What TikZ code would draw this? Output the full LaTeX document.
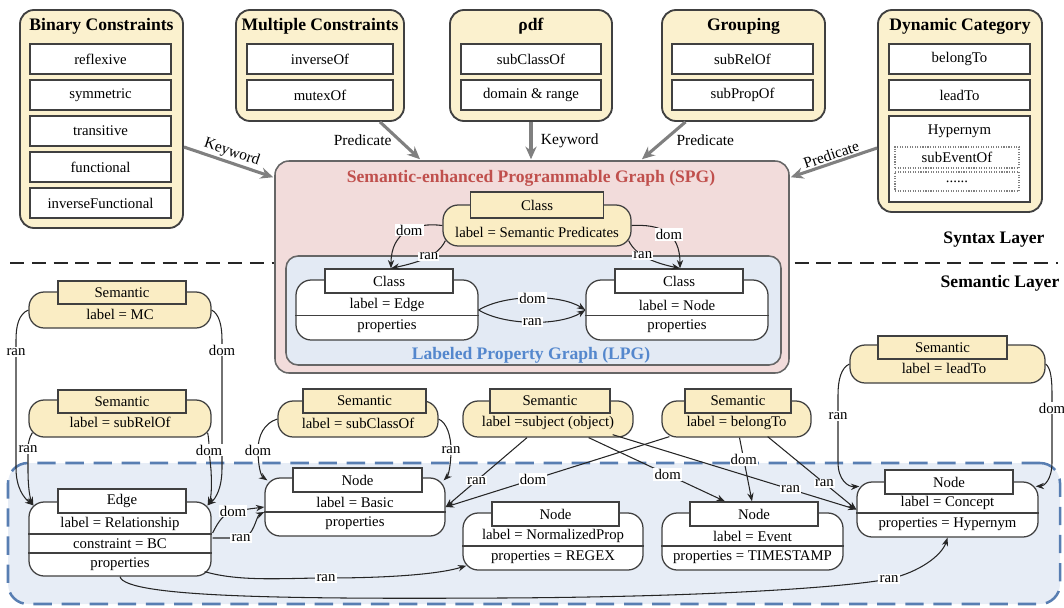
\documentclass[tikz,border=0pt]{standalone}
\usepackage{fontspec}
\setmainfont{Liberation Serif}
\usetikzlibrary{arrows.meta,calc}
\definecolor{GroupFill}{RGB}{251,241,206}
\definecolor{SemFill}{RGB}{250,237,196}
\definecolor{SpgFill}{RGB}{242,220,219}
\definecolor{LpgFill}{RGB}{227,234,244}
\definecolor{LowFill}{RGB}{231,237,246}
\definecolor{LowDash}{RGB}{88,126,178}
\definecolor{SpgRed}{RGB}{192,80,77}
\definecolor{LpgBlue}{RGB}{84,135,205}
\definecolor{LineGray}{RGB}{64,64,64}
\definecolor{ArrowGray}{RGB}{128,128,128}

\tikzset{
  wh/.style 2 args={minimum width=#1*0.025cm,minimum height=#2*0.025cm},
  txt/.style={inner sep=0pt,font=\fontsize{10.5}{12}\selectfont},
  ttl/.style={inner sep=0pt,font=\fontsize{12.5}{14}\selectfont\bfseries},
  group/.style={draw=LineGray,fill=GroupFill,line width=1.3pt,rounded corners=0.35cm,inner sep=0pt},
  item/.style={draw=LineGray,fill=white,line width=1pt,inner sep=0pt,wh={141}{30},font=\fontsize{10.5}{12}\selectfont},
  dotbox/.style={draw=gray,densely dotted,line width=0.8pt,fill=white,inner sep=0pt,font=\fontsize{10.5}{12}\selectfont},
  spgbox/.style={draw=LineGray!80,fill=SpgFill,line width=1.1pt,rounded corners=0.35cm,inner sep=0pt},
  lpgbox/.style={draw=LineGray!80,fill=LpgFill,line width=1.1pt,rounded corners=0.3cm,inner sep=0pt},
  lowbox/.style={draw=LowDash,fill=LowFill,line width=1.8pt,dash pattern=on 13pt off 7pt,rounded corners=0.5cm,inner sep=0pt},
  layerline/.style={draw=black!85,line width=1.8pt,dash pattern=on 10pt off 5.5pt},
  body/.style={draw=LineGray,line width=0.9pt,rounded corners=0.38cm,inner sep=0pt},
  head/.style={draw=LineGray,line width=0.9pt,inner sep=0pt,font=\fontsize{10.5}{12}\selectfont},
  sem/.style={fill=SemFill},
  plain/.style={fill=white},
  divline/.style={draw=LineGray,line width=0.9pt},
  gray arrow/.style={draw=ArrowGray,line width=2.2pt,-{Stealth[length=9pt,width=8pt]}},
  kwlab/.style={inner sep=0pt,text=black,font=\fontsize{11}{13}\selectfont},
  rel/.style={draw=black!85,line width=0.75pt,-{Stealth[length=6pt,width=4.5pt]}},
  lab/.style={fill=white,inner sep=0.8pt,font=\fontsize{10.5}{12}\selectfont},
}

\begin{document}
\begin{tikzpicture}[x=0.025cm,y=-0.025cm]
\useasboundingbox (0,0) rectangle (1064,607);

% layers
\node[lowbox,wh={1052}{141}] (low) at (534,533.5) {};
\coordinate (lay1) at (10,263);
\coordinate (lay2) at (1058,263);
\draw[layerline] (lay1) -- (lay2);
\node[ttl] (syn) at (994,240) {Syntax Layer};
\node[ttl] (sml) at (1000,283) {Semantic Layer};

% syntax groups
\node[group,wh={163}{218}] (bc) at (101.5,119) {};
\node[ttl] (bct) at (101.5,26) {Binary Constraints};
\foreach \t [count=\i] in {reflexive,symmetric,transitive,functional,inverseFunctional}
  \node[item] (bc\i) at (100.5,23+36*\i) {\t};

\node[group,wh={168}{111}] (mc) at (320,65.5) {};
\node[ttl] (mct) at (320,26) {Multiple Constraints};
\foreach \t [count=\i] in {inverseOf,mutexOf}
  \node[item,wh={146}{30}] (mc\i) at (320,23+36*\i) {\t};

\node[group,wh={162}{111}] (rdf) at (531,65.5) {};
\node[ttl] (rdft) at (531,26) {ρdf};
\foreach \t [count=\i] in {subClassOf,domain \& range}
  \node[item,wh={140}{30}] (rdf\i) at (531,23+36*\i) {\t};

\node[group,wh={163}{111}] (gr) at (743.5,65.5) {};
\node[ttl] (grt) at (743.5,26) {Grouping};
\foreach \t [count=\i] in {subRelOf,subPropOf}
  \node[item] (gr\i) at (742.5,23+36*\i) {\t};

\node[group,wh={164}{202}] (dc) at (960,111) {};
\node[ttl] (dct) at (960,26) {Dynamic Category};
\foreach \t [count=\i] in {belongTo,leadTo}
  \node[item] (dc\i) at (959.5,23+36*\i) {\t};
\node[item,wh={141}{86}] (hyp) at (959.5,159) {};
\node[txt] (hypt) at (959.5,131) {Hypernym};
\node[dotbox,wh={124}{21}] (sub1) at (957,157.5) {subEventOf};
\node[dotbox,wh={124}{19}] (sub2) at (957,181.5) {......};

% SPG and LPG
\node[spgbox,wh={514}{212}] (spg) at (532,267) {};
\node[ttl,text=SpgRed] (spgt) at (531,178) {Semantic-enhanced Programmable Graph (SPG)};
\node[lpgbox,wh={495}{109}] (lpg) at (533.5,310.5) {};
\node[ttl,text=LpgBlue] (lpgt) at (531,355) {Labeled Property Graph (LPG)};

\node[body,sem,wh={188}{41}] (scb) at (537,225.5) {};
\node[head,sem,wh={133}{26}] (sch) at (537,205) {Class};
\node[txt] (scl) at (537,232) {label = Semantic Predicates};

\node[body,plain,wh={182}{60}] (lcb1) at (387,310) {};
\node[head,plain,wh={128}{24}] (lch1) at (389,281) {Class};
\node[txt] (lcl1) at (387,305) {label = Edge};
\draw[divline] (lcb1.west |- 0,315.5) -- (lcb1.east |- 0,315.5);
\node[txt] (lcp1) at (387,326) {properties};

\node[body,plain,wh={182}{60}] (lcb2) at (677,310) {};
\node[head,plain,wh={128}{24}] (lch2) at (679,281) {Class};
\node[txt] (lcl2) at (677,305) {label = Node};
\draw[divline] (lcb2.west |- 0,315.5) -- (lcb2.east |- 0,315.5);
\node[txt] (lcp2) at (677,326) {properties};

\draw[rel] (scb.west) .. controls (415,222) and (391,232) .. ($(lch1.north)+(2,0)$) node[lab,pos=0.45] {dom};
\draw[rel] ($(scb.south west)+(3,-6)$) .. controls (438,256) and (420,262) .. ($(lch1.north)+(2,0)$) node[lab,pos=0.45] {ran};
\draw[rel] (scb.east) .. controls (660,224) and (680,232) .. ($(lch2.north)+(1,0)$) node[lab,pos=0.55] {dom};
\draw[rel] ($(scb.south east)+(-3,-6)$) .. controls (636,256) and (655,263) .. ($(lch2.north)+(1,0)$) node[lab,pos=0.4] {ran};
\draw[rel] (lcb1.east) .. controls (505,294) and (560,294) .. (lcb2.west) node[lab,pos=0.5] {dom};
\draw[rel] (lcb1.east) .. controls (505,326) and (560,326) .. (lcb2.west) node[lab,pos=0.5] {ran};

% syntax arrows
\draw[gray arrow] ($(bc.east)+(0,28)$) -- ($(spg.north west)+(-1,17)$) node[midway,sloped,above=1pt,kwlab] {Keyword};
\draw[gray arrow] ($(mc.south)+(60,0)$) -- ($(spg.north)+(-112,-1)$) node[midway,left=5pt,kwlab] {Predicate};
\draw[gray arrow] (rdf.south) -- ($(spg.north)+(-1,-1)$) node[midway,right=6pt,kwlab] {Keyword};
\draw[gray arrow] ($(gr.south)+(-58,0)$) -- ($(spg.north)+(110,-1)$) node[midway,right=8pt,kwlab] {Predicate};
\draw[gray arrow] ($(dc.west)+(0,37)$) -- ($(spg.north east)+(1,17)$) node[midway,sloped,above=1pt,kwlab] {Predicate};

% semantic nodes
\node[body,sem,wh={182}{36}] (s1b) at (120,310) {};
\node[head,sem,wh={128}{23}] (s1h) at (122,292.5) {Semantic};
\node[txt] (s1l) at (120,314) {label = MC};

\node[body,sem,wh={182}{37}] (s2b) at (120,418.5) {};
\node[head,sem,wh={128}{23}] (s2h) at (122,401.5) {Semantic};
\node[txt] (s2l) at (120,422) {label = subRelOf};

\node[body,sem,wh={160}{36}] (s3b) at (358,419) {};
\node[head,sem,wh={123}{24}] (s3h) at (364.5,401) {Semantic};
\node[txt] (s3l) at (358,423) {label = subClassOf};

\node[body,sem,wh={170}{36}] (s4b) at (548,419) {};
\node[head,sem,wh={120}{24}] (s4h) at (550,401) {Semantic};
\node[txt] (s4l) at (548,423) {label =subject (object)};

\node[body,sem,wh={149}{36}] (s5b) at (736.5,419) {};
\node[head,sem,wh={106}{24}] (s5h) at (738,401) {Semantic};
\node[txt] (s5l) at (736.5,423) {label = belongTo};

\node[body,sem,wh={195}{38}] (s6b) at (947.5,364) {};
\node[head,sem,wh={129}{23}] (s6h) at (942.5,347.5) {Semantic};
\node[txt] (s6l) at (944,368) {label = leadTo};

% graph nodes
\node[body,plain,wh={182}{74}] (e1b) at (120,539) {};
\node[head,plain,wh={128}{24}] (e1h) at (122,501) {Edge};
\node[txt] (e1l) at (120,524) {label = Relationship};
\draw[divline] (e1b.west |- 0,534) -- (e1b.east |- 0,534);
\node[txt] (e1c) at (120,544) {constraint = BC};
\draw[divline] (e1b.west |- 0,553) -- (e1b.east |- 0,553);
\node[txt] (e1p) at (120,564) {properties};

\node[body,plain,wh={180}{58}] (b1b) at (355,507) {};
\node[head,plain,wh={129}{24}] (b1h) at (357.5,480) {Node};
\node[txt] (b1l) at (355,502) {label = Basic};
\draw[divline] (b1b.west |- 0,512) -- (b1b.east |- 0,512);
\node[txt] (b1p) at (355,523) {properties};

\node[body,plain,wh={180}{57}] (n1b) at (553,541.5) {};
\node[head,plain,wh={127}{24}] (n1h) at (555.5,514) {Node};
\node[txt] (n1l) at (553,536) {label = NormalizedProp};
\draw[divline] (n1b.west |- 0,546) -- (n1b.east |- 0,546);
\node[txt] (n1p) at (553,557) {properties = REGEX};

\node[body,plain,wh={181}{57}] (v1b) at (752.5,541.5) {};
\node[head,plain,wh={128}{24}] (v1h) at (754,514) {Node};
\node[txt] (v1l) at (752.5,536) {label = Event};
\draw[divline] (v1b.west |- 0,546) -- (v1b.east |- 0,546);
\node[txt] (v1p) at (752.5,557) {properties = TIMESTAMP};

\node[body,plain,wh={181}{55}] (c1b) at (947.5,509.5) {};
\node[head,plain,wh={128}{24}] (c1h) at (949,482) {Node};
\node[txt] (c1l) at (947.5,503) {label = Concept};
\draw[divline] (c1b.west |- 0,513) -- (c1b.east |- 0,513);
\node[txt] (c1p) at (947.5,524) {properties = Hypernym};

% semantic links
\draw[rel] (s1b.west) .. controls (19,314) and (16,325) .. (16,340) -- (16,352) node[lab] {ran} -- (16,468) .. controls (16,488) and (24,498) .. ($(e1b.north west)+(5,4)$);
\draw[rel] (s1b.east) .. controls (219,314) and (222,325) .. (222,340) -- (222,350) node[lab] {dom} -- (222,468) .. controls (222,488) and (216,498) .. ($(e1b.north east)+(-4,4)$);
\draw[rel] ($(s2b.south west)+(4,-5)$) .. controls (29,438) and (28,444) .. (28,449) node[lab] {ran} -- (28,470) .. controls (28,488) and (30,498) .. ($(e1b.north west)+(5,4)$);
\draw[rel] ($(s2b.south east)+(-4,-5)$) .. controls (209,440) and (209,444) .. (209,450) node[lab] {dom} -- (211,470) .. controls (212,488) and (211,498) .. ($(e1b.north east)+(-4,4)$);

\draw[rel] (s3b.west) .. controls (264,423) and (258,436) .. (258,450) node[lab] {dom} .. controls (258,466) and (261,476) .. ($(b1b.north west)+(3,3)$);
\draw[rel] (s3b.east) .. controls (447,423) and (451,436) .. (451,450) node[lab] {ran} .. controls (451,466) and (448,476) .. ($(b1b.north east)+(-2,3)$);

\draw[rel] ($(s4b.south)+(-21,0)$) -- (b1b.east) node[lab,pos=0.62] {ran};
\draw[rel] ($(s5b.south west)+(8,-1)$) -- (b1b.east) node[lab,pos=0.61] {dom};
\draw[rel] ($(s4b.south east)+(-45,0)$) -- ($(v1h.north)+(-29,0)$) node[lab,pos=0.58] {dom};
\draw[rel] ($(s4b.south east)+(-21,-3)$) -- (c1b.west) node[lab,pos=0.73] {ran};
\draw[rel] ($(s5b.south)+(3,0)$) -- ($(v1h.north)+(-2,0)$) node[lab,pos=0.34] {dom};
\draw[rel] ($(s5b.south east)+(-44,-1)$) -- (c1b.west) node[lab,pos=0.64] {ran};

\draw[rel] (s6b.west) .. controls (841,368) and (838,380) .. (838,395) -- (838,416) node[lab] {ran} -- (838,462) .. controls (838,480) and (848,487) .. ($(c1b.north west)+(3,5)$);
\draw[rel] (s6b.east) .. controls (1051,368) and (1052,380) .. (1052,395) -- (1052,408) node[lab] {dom} -- (1052,462) .. controls (1052,480) and (1044,486) .. ($(c1b.north east)+(-3,5)$);

\draw[rel] ($(e1b.east)+(1,-6)$) .. controls (218,522) and (224,513) .. (233,511) node[lab] {dom} -- (b1b.west);
\draw[rel] ($(e1b.east)+(1,-1)$) -- (241,538) node[lab] {ran} .. controls (254,538) and (256,516) .. ($(b1b.west)+(0,5)$);
\draw[rel] ($(e1b.south east)+(-7,-5)$) .. controls (240,582) and (285,578) .. (326,578) node[lab] {ran} .. controls (390,578) and (440,574) .. ($(n1b.south west)+(4,-5)$);
\draw[rel] (e1b.south) .. controls (125,598) and (300,599) .. (500,598) .. controls (700,597) and (840,588) .. (889,579) node[lab] {ran} .. controls (920,572) and (942,555) .. (c1b.south);
\end{tikzpicture}
\end{document}
